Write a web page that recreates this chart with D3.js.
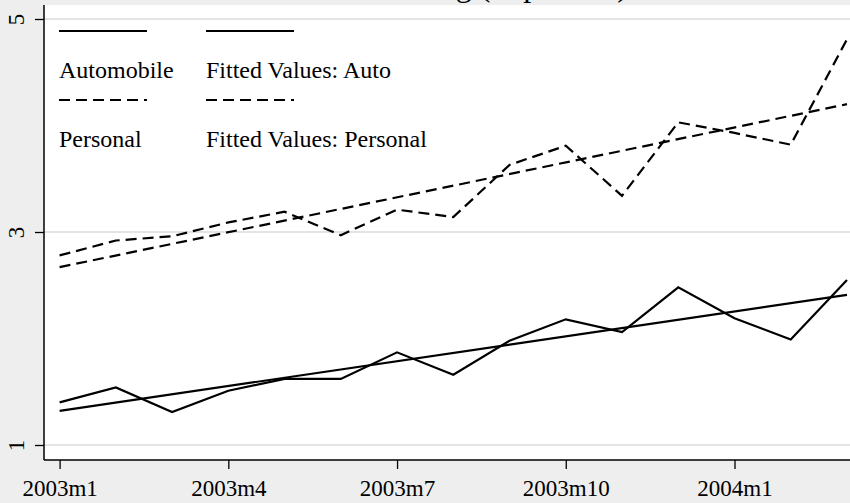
<!DOCTYPE html>
<html>
<head>
<meta charset="utf-8">
<script src="https://cdn.jsdelivr.net/npm/d3@7"></script>
<style>
  body { margin: 0; background: #eeeeee; }
  text { font-family: "Liberation Serif", "Times New Roman", serif; fill: #000; }
</style>
</head>
<body>
<div id="chart"></div>
<script>
// ======================================
// Data
// ======================================
var months = ["2003m1", "2003m2", "2003m3", "2003m4", "2003m5", "2003m6", "2003m7", "2003m8",
  "2003m9", "2003m10", "2003m11", "2003m12", "2004m1", "2004m2", "2004m3"];

var automobile = [1.40, 1.54, 1.31, 1.51, 1.62, 1.62, 1.87, 1.66, 1.98, 2.18, 2.06, 2.48, 2.19, 1.99, 2.55];
var personal = [2.78, 2.92, 2.96, 3.09, 3.19, 2.97, 3.21, 3.14, 3.63, 3.81, 3.34, 4.03, 3.93, 3.82, 4.81];

// fitted lines: first and last month only
var fittedMonths = ["2003m1", "2004m3"];
var fittedAuto = [1.32, 2.41];
var fittedPersonal = [2.67, 4.20];

var xTickLabels = ["2003m1", "2003m4", "2003m7", "2003m10", "2004m1"];
var yTicks = [1, 3, 5];

var legendLabels = ["Automobile", "Fitted Values: Auto", "Personal", "Fitted Values: Personal"];

// ======================================
// Setup
// ======================================
var svgWidth = 850;
var svgHeight = 503;

var plotLeft = 44;
var plotTop = 5;
var plotBottom = 460;

var svg = d3.select("#chart")
  .append("svg")
  .attr("width", svgWidth)
  .attr("height", svgHeight);

// white plot region
svg.append("rect")
  .attr("x", plotLeft)
  .attr("y", plotTop)
  .attr("width", svgWidth - plotLeft)
  .attr("height", plotBottom - plotTop)
  .attr("fill", "#ffffff");

// title, mostly cut off at the top of the picture
svg.append("text")
  .attr("x", 628)
  .attr("y", -4)
  .attr("text-anchor", "end")
  .style("font-size", "32px")
  .text("Consumer Lending (in percent)");

// scales
var xScale = d3.scaleLinear()
  .domain([0, 12])
  .range([59.6, 734.5]);

var yScale = d3.scaleLinear()
  .domain([1, 5])
  .range([445, 19]);

var monthIndex = m => months.indexOf(m);

// gridlines
svg.append("g")
  .selectAll("line")
  .data(yTicks)
  .enter()
  .append("line")
  .attr("x1", plotLeft)
  .attr("x2", svgWidth)
  .attr("y1", d => yScale(d))
  .attr("y2", d => yScale(d))
  .attr("stroke", "#e4e4e4")
  .attr("stroke-width", 2);

// ======================================
// Axes
// ======================================
var leftAxis = d3.axisLeft(yScale)
  .tickValues(yTicks)
  .tickSize(9)
  .tickFormat(d3.format("d"));

var yAxis = svg.append("g")
  .attr("transform", `translate(${plotLeft}, 0)`)
  .call(leftAxis)
  .attr("font-family", null)
  .attr("font-size", null);

yAxis.select(".domain").remove();
yAxis.selectAll("line").attr("stroke", "#000").attr("stroke-width", 1.3);
yAxis.selectAll("text")
  .attr("transform", "rotate(-90)")
  .attr("x", 0)
  .attr("y", -28)
  .attr("dy", null)
  .attr("text-anchor", "middle")
  .attr("dominant-baseline", "central")
  .style("font-size", "23px");

var bottomAxis = d3.axisBottom(xScale)
  .tickValues(xTickLabels.map(monthIndex))
  .tickSize(9)
  .tickFormat(d => months[d]);

var xAxis = svg.append("g")
  .attr("transform", `translate(0, ${plotBottom})`)
  .call(bottomAxis)
  .attr("font-family", null)
  .attr("font-size", null);

xAxis.select(".domain").remove();
xAxis.selectAll("line").attr("stroke", "#000").attr("stroke-width", 1.3);
xAxis.selectAll("text")
  .attr("y", 36)
  .attr("dy", null)
  .style("font-size", "23px");

// axis lines across the whole plot region
svg.append("line")
  .attr("x1", plotLeft).attr("x2", plotLeft)
  .attr("y1", plotTop).attr("y2", plotBottom)
  .attr("stroke", "#000").attr("stroke-width", 1.5);

svg.append("line")
  .attr("x1", plotLeft).attr("x2", svgWidth)
  .attr("y1", plotBottom).attr("y2", plotBottom)
  .attr("stroke", "#000").attr("stroke-width", 1.5);

// ======================================
// Lines
// ======================================
var lineGen = d3.line()
  .x(d => xScale(monthIndex(d[0])))
  .y(d => yScale(d[1]));

var series = [
  { labels: months, values: automobile, dash: null },
  { labels: fittedMonths, values: fittedAuto, dash: null },
  { labels: months, values: personal, dash: "11,6" },
  { labels: fittedMonths, values: fittedPersonal, dash: "11,6" }
];

series.forEach(s => {
  svg.append("path")
    .datum(d3.zip(s.labels, s.values))
    .attr("d", lineGen)
    .attr("fill", "none")
    .attr("stroke", "#000")
    .attr("stroke-width", 2.2)
    .attr("stroke-dasharray", s.dash);
});

// ======================================
// Legend (key above label, two columns)
// ======================================
var legendCols = [59, 206];
var legendRows = [31, 100];

series.forEach((s, i) => {
  var lx = legendCols[i % 2];
  var ly = legendRows[Math.floor(i / 2)];

  svg.append("line")
    .attr("x1", lx).attr("x2", lx + 88)
    .attr("y1", ly).attr("y2", ly)
    .attr("stroke", "#000")
    .attr("stroke-width", 2.2)
    .attr("stroke-dasharray", s.dash);

  svg.append("text")
    .attr("x", lx)
    .attr("y", ly + 47)
    .style("font-size", "24px")
    .text(legendLabels[i]);
});
</script>
</body>
</html>
